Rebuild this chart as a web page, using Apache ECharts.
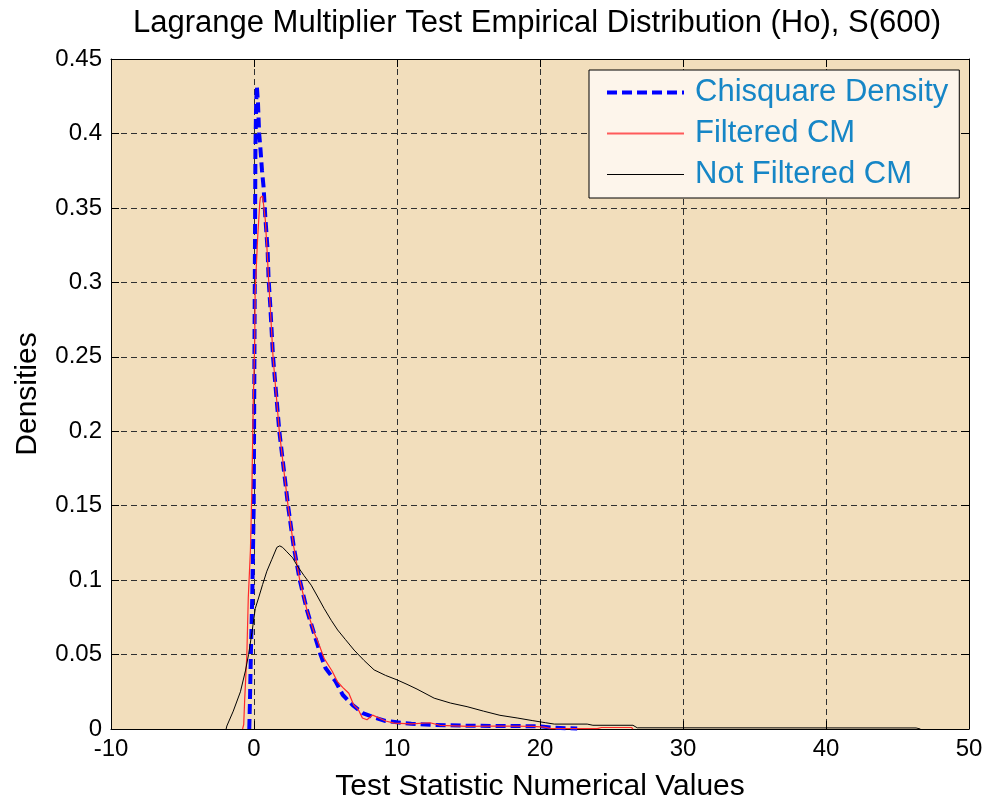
<!DOCTYPE html>
<html>
<head>
<meta charset="utf-8">
<script src="https://cdn.jsdelivr.net/npm/echarts@6/dist/echarts.min.js"></script>
<style>
html,body{margin:0;padding:0;background:#ffffff;}
#chart{width:986px;height:807px;}
</style>
</head>
<body>
<div id="chart"></div>
<script>
// ---- data ----
const titleText = 'Lagrange Multiplier Test Empirical Distribution (Ho), S(600)';
const xName = 'Test Statistic Numerical Values';
const yName = 'Densities';
const seriesNames = ['Chisquare Density', 'Filtered CM', 'Not Filtered CM'];

const chiX = [-0.33,-0.28,-0.22,-0.12,-0.02,0.03,0.07,0.1,0.15,0.2,0.28,0.36,0.44,0.56,0.67,0.79,0.95,1.02,1.14,1.33,1.77,2.38,2.77,3.2,3.7,4.3,4.65,5.0,5.7,6.2,6.9,7.6,8.5,9.2,10,11,12.5,15,18,20,21,22,22.6];
const chiY = [0,0.02,0.05,0.09,0.15,0.25,0.33,0.39,0.42,0.432,0.42,0.40,0.391,0.375,0.364,0.344,0.322,0.302,0.284,0.25,0.2,0.15,0.123,0.1,0.08,0.061,0.05,0.041,0.032,0.023,0.016,0.0107,0.0074,0.0054,0.0045,0.0035,0.0028,0.0022,0.002,0.0018,0.0008,0.0005,0.0003];

const filtX = [-0.8,-0.72,-0.65,-0.55,-0.5,-0.4,-0.25,-0.15,-0.05,0.05,0.08,0.25,0.4,0.45,0.6,0.79,0.9,1.02,1.14,1.33,1.77,2.38,2.77,3.2,3.7,4.2,4.5,4.9,5.47,5.82,6.2,6.63,6.98,7.3,7.58,7.9,8.3,8.75,9.2,9.8,11,12.3,13,15,17,19.5,20.3,20.8,24,24.3,26.4,26.5];
const filtY = [0,0.003,0.02,0.04,0.05,0.088,0.12,0.16,0.22,0.26,0.293,0.329,0.353,0.357,0.358,0.342,0.324,0.302,0.283,0.25,0.2,0.15,0.123,0.1,0.08,0.065,0.058,0.0475,0.0388,0.032,0.028,0.024,0.016,0.013,0.0074,0.0062,0.0093,0.0074,0.0054,0.004,0.0035,0.0042,0.0025,0.0018,0.002,0.0018,0.0012,0.0003,0.0003,0.001,0.001,0];

const notX = [-1.95,-1.9,-1.45,-0.95,-0.6,-0.38,-0.14,0.09,0.32,0.6,0.9,1.25,1.6,1.8,2.0,2.3,2.7,3.0,3.5,4.0,4.5,4.9,5.4,5.85,6.4,7.0,7.7,8.4,9.2,10.0,10.7,11.4,12.6,13.75,14.9,16.05,17.2,18.4,19.5,20.4,21.0,23.3,23.7,26.5,26.8,46.3,46.6];
const notY = [0,0.002,0.012,0.025,0.039,0.05,0.065,0.081,0.088,0.097,0.106,0.114,0.122,0.123,0.122,0.119,0.115,0.11,0.103,0.0966,0.088,0.081,0.073,0.0665,0.06,0.053,0.046,0.0397,0.036,0.033,0.03,0.0268,0.0207,0.0174,0.015,0.012,0.0092,0.0074,0.0056,0.0042,0.0033,0.0033,0.0025,0.0025,0.0008,0.0007,0];

const xMin = -10, xMax = 50, xStep = 10;
const yMin = 0, yMax = 0.45, yStep = 0.05;

// ---- build chart ----
const pairs = (xs, ys) => xs.map((x, i) => [x, ys[i]]);
const FONT = "'Liberation Sans', Arial, sans-serif";
const dashGrid = { show: true, lineStyle: { color: '#303030', type: [6, 4], width: 1 } };
const colBlue = '#0000FF', colRed = '#FF2A2A', colBlack = '#000000';

const chart = echarts.init(document.getElementById('chart'), null, { renderer: 'canvas' });
chart.setOption({
  backgroundColor: '#ffffff',
  animation: false,
  textStyle: { fontFamily: FONT },
  title: {
    text: titleText,
    left: 133,
    top: 0,
    padding: [8, 0, 5, 0],
    textStyle: { fontSize: 31, fontWeight: 'normal', color: '#000', fontFamily: FONT }
  },
  grid: {
    left: 111, right: 17, top: 59, bottom: 76,
    show: true, backgroundColor: '#F2DEBC', borderWidth: 0
  },
  legend: {
    orient: 'vertical',
    left: 589, top: 70,
    backgroundColor: '#FDF5EB',
    borderColor: '#000', borderWidth: 1,
    padding: [7, 11, 8, 16],
    itemWidth: 77, itemHeight: 14, itemGap: 10,
    textStyle: { fontSize: 31, color: '#1686C6', lineHeight: 31, padding: [0, 0, 0, 6], fontFamily: FONT },
    data: [
      { name: seriesNames[0], itemStyle: { color: colBlue, opacity: 0 }, lineStyle: { color: colBlue, width: 4, type: [10, 5], opacity: 1 } },
      { name: seriesNames[1], itemStyle: { color: colRed, opacity: 0 }, lineStyle: { color: '#FF5A5A', width: 2, type: 'solid', opacity: 1 } },
      { name: seriesNames[2], itemStyle: { color: colBlack, opacity: 0 }, lineStyle: { color: colBlack, width: 1, type: 'solid', opacity: 1 } }
    ]
  },
  xAxis: [
    {
      type: 'value', min: xMin, max: xMax, interval: xStep, position: 'bottom',
      name: xName, nameLocation: 'middle', nameGap: 43,
      nameTextStyle: { fontSize: 30, color: '#000', fontFamily: FONT },
      axisLine: { show: true, onZero: false, lineStyle: { color: '#000', width: 1 } },
      axisTick: { show: true, inside: true, length: 8, lineStyle: { color: '#000' } },
      axisLabel: { fontSize: 24, color: '#000', margin: 8, fontFamily: FONT },
      splitLine: dashGrid
    },
    {
      type: 'value', min: xMin, max: xMax, interval: xStep, position: 'top',
      axisLine: { show: true, onZero: false, lineStyle: { color: '#000', width: 1 } },
      axisTick: { show: true, inside: true, length: 8, lineStyle: { color: '#000' } },
      axisLabel: { show: false },
      splitLine: { show: false }
    }
  ],
  yAxis: [
    {
      type: 'value', min: yMin, max: yMax, interval: yStep, position: 'left',
      name: yName, nameLocation: 'middle', nameGap: 68,
      nameTextStyle: { fontSize: 30, color: '#000', fontFamily: FONT },
      axisLine: { show: true, onZero: false, lineStyle: { color: '#000', width: 1 } },
      axisTick: { show: true, inside: true, length: 8, lineStyle: { color: '#000' } },
      axisLabel: { fontSize: 24, color: '#000', margin: 9, fontFamily: FONT,
        formatter: v => String(Math.round(v * 100) / 100) },
      splitLine: dashGrid
    },
    {
      type: 'value', min: yMin, max: yMax, interval: yStep, position: 'right',
      axisLine: { show: true, onZero: false, lineStyle: { color: '#000', width: 1 } },
      axisTick: { show: true, inside: true, length: 8, lineStyle: { color: '#000' } },
      axisLabel: { show: false },
      splitLine: { show: false }
    }
  ],
  series: [
    {
      name: seriesNames[0], type: 'line', data: pairs(chiX, chiY),
      xAxisIndex: 0, yAxisIndex: 0, symbol: 'none', clip: true,
      lineStyle: { color: colBlue, width: 4, type: [10, 5] },
      itemStyle: { color: colBlue }, z: 2
    },
    {
      name: seriesNames[1], type: 'line', data: pairs(filtX, filtY),
      xAxisIndex: 0, yAxisIndex: 0, symbol: 'none', clip: true,
      lineStyle: { color: colRed, width: 1.2 },
      itemStyle: { color: colRed }, z: 3
    },
    {
      name: seriesNames[2], type: 'line', data: pairs(notX, notY),
      xAxisIndex: 0, yAxisIndex: 0, symbol: 'none', clip: true,
      lineStyle: { color: colBlack, width: 1 },
      itemStyle: { color: colBlack }, z: 4
    }
  ]
});
</script>
</body>
</html>
